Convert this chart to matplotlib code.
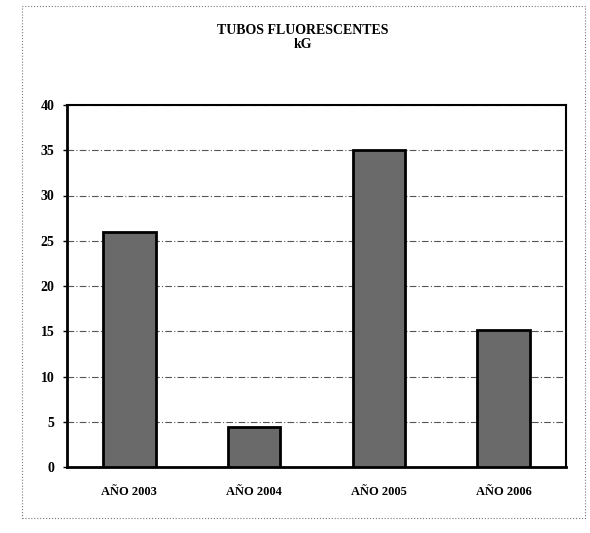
import matplotlib
matplotlib.use('Agg')
import matplotlib.pyplot as plt
from matplotlib.patches import Rectangle

# data
categories = ['AÑO 2003', 'AÑO 2004', 'AÑO 2005', 'AÑO 2006']
valores = [26, 4.4, 35, 15.1]
yticks = [0, 5, 10, 15, 20, 25, 30, 35, 40]

W, H = 590, 533
fig = plt.figure(figsize=(W / 100, H / 100), dpi=100)
fig.patch.set_facecolor('white')

'Axes placed in pixels: x 67..566, y 105..467'
ax = fig.add_axes([67 / W, 1 - 467 / H, (566 - 67) / W, (467 - 105) / H])

font = {'family': 'Liberation Serif', 'weight': 'bold'}

x = list(range(len(categories)))
ax.bar(x, valores, width=0.42, color='#6a6a6a', edgecolor='black', linewidth=2, zorder=3)

ax.set_xlim(-0.5, len(categories) - 0.5)
ax.set_ylim(0, 40)
ax.set_yticks(yticks)
ax.set_yticklabels([str(v) for v in yticks], fontdict=font, fontsize=10)
ax.set_xticks(x)
ax.set_xticklabels(categories, fontdict=font, fontsize=9)
ax.tick_params(axis='x', length=0, pad=14)
ax.tick_params(axis='y', length=3, width=1, pad=6, direction='out')

'Gridlines'
ax.yaxis.grid(True, color='#555555', linestyle=(0, (6, 2, 1, 2)), linewidth=0.8, zorder=0)
ax.set_axisbelow(True)

for side in ['left', 'bottom']:
    ax.spines[side].set_linewidth(2)
for side in ['top', 'right']:
    ax.spines[side].set_linewidth(1.5)

'Titles'
fig.text(303 / W, 1 - 30 / H, 'TUBOS FLUORESCENTES', ha='center', va='center', fontdict=font, fontsize=10)
fig.text(303 / W, 1 - 45 / H, 'kG', ha='center', va='center', fontdict=font, fontsize=10)

'Dotted outer frame'
frame = Rectangle((22 / W, 1 - 518 / H), (585 - 22) / W, (518 - 6) / H,
                  transform=fig.transFigure, fill=False, edgecolor='#777777',
                  linestyle=':', linewidth=0.8)
fig.patches.append(frame)

plt.savefig('out.png', dpi=100)
